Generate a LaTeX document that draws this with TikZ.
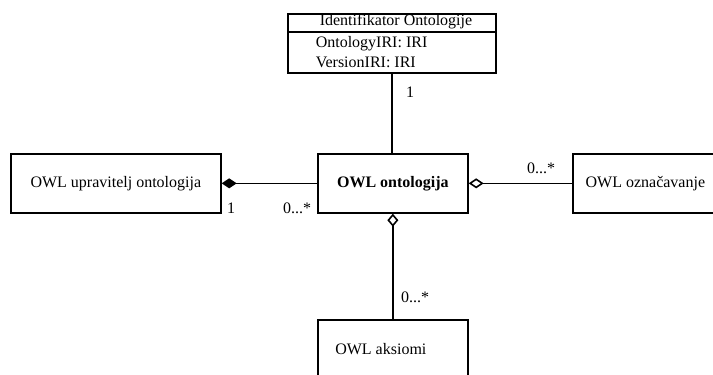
\documentclass[tikz,border=0pt]{standalone}
\usepackage{fontspec}
\setmainfont{Liberation Serif}
\usetikzlibrary{arrows.meta}

\begin{document}
\begin{tikzpicture}[x=1pt,y=-1pt,line width=1.6pt,
  every node/.style={font=\fontsize{16}{19}\selectfont}]
\tikzset{cls/.style={draw=black,fill=white,line width=1.7pt,minimum height=59pt,inner sep=0pt,anchor=north west},
  mult/.style={inner sep=0pt},
  assoc/.style={line width=1.6pt}}
\useasboundingbox (0,0) rectangle (713,375);
% ---------- classes ----------
\node[cls,minimum width=208pt] (ident) at (287,13) {};
\node[cls,minimum width=150pt] (core) at (317,153) {\bfseries OWL ontologija};
\node[cls,minimum width=210pt] (manager) at (10,153) {OWL upravitelj ontologija};
\node[cls,minimum width=145pt] (annot) at (572,153) {OWL označavanje};
\node[cls,minimum width=150pt] (axioms) at (317,319) {};
\node[inner sep=0pt] (axname) at ([xshift=-12pt]axioms.center) {OWL aksiomi};
% ---------- ontology identifier compartments ----------
\draw[line width=1.7pt] (ident.west |- 0,32) -- (ident.east |- 0,32);
\node[inner sep=0pt] (ihead) at (396,22) {Identifikator Ontologije};
\node[inner sep=0pt,anchor=west] (iattr1) at (315,44) {OntologyIRI: IRI};
\node[inner sep=0pt,anchor=west] (iattr2) at (315,62) {VersionIRI: IRI};
% ---------- associations ----------
\draw[assoc] (ident.south) -- (ident.south |- core.north);
\draw[assoc,{Diamond[length=15pt,width=10pt]}-] (manager.east) -- (core.west);
\draw[assoc,{Diamond[open,length=15pt,width=10pt]}-] (core.east) -- (annot.west);
\draw[assoc,{Diamond[open,length=13pt,width=11pt]}-] (core.south) -- (axioms.north);
% ---------- multiplicities ----------
\node[mult] (m1) at (410,92) {1};
\node[mult] (m2) at (231,208) {1};
\node[mult] (m3) at (297,208) {0...*};
\node[mult] (m4) at (541,168) {0...*};
\node[mult] (m5) at (415,297) {0...*};
\end{tikzpicture}
\end{document}
